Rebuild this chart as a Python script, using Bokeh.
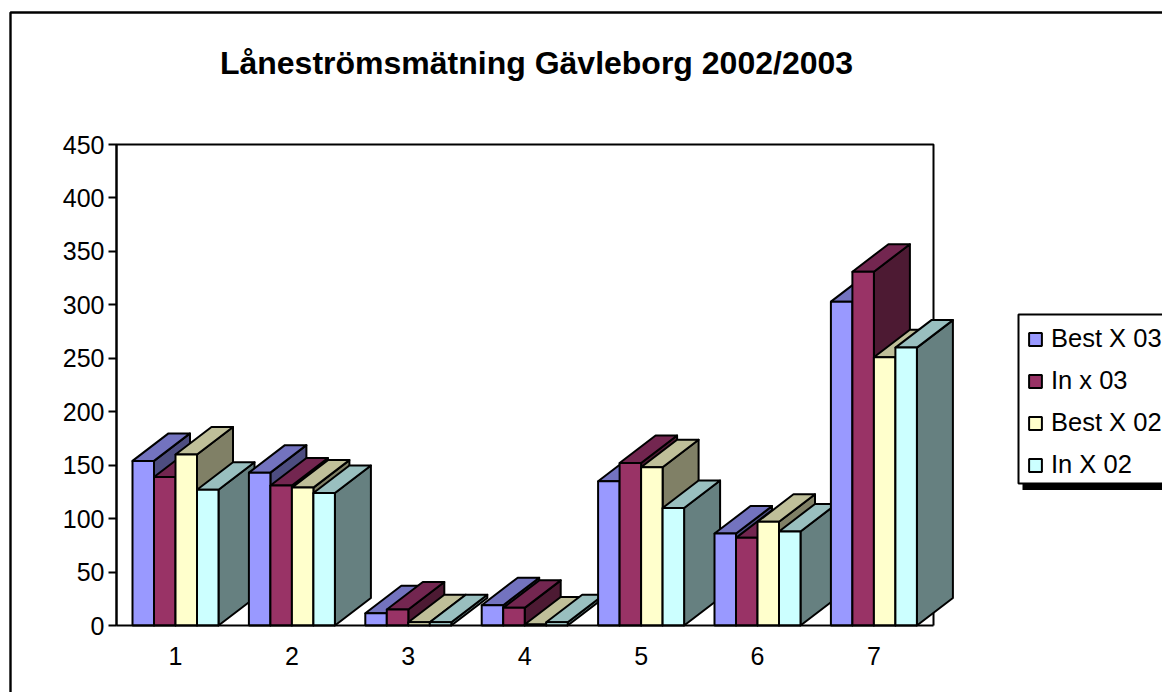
from bokeh.plotting import figure
from bokeh.embed import file_html
from bokeh.resources import INLINE
from bokeh.models import Legend, LegendItem, FixedTicker, LinearAxis
from bokeh.core.properties import value

title = "Låneströmsmätning Gävleborg 2002/2003"
categories = [1, 2, 3, 4, 5, 6, 7]
series_names = ["Best X 03", "In x 03", "Best X 02", "In X 02"]
best_x_03 = [154, 143, 11.5, 19, 135, 86, 303]
in_x_03 = [139, 131, 15, 16.5, 152, 82, 331]
best_x_02 = [160, 129, 3, 1, 148, 97, 251]
in_x_02 = [127, 124, 3, 3, 110, 88, 260]
y_ticks = [0, 50, 100, 150, 200, 250, 300, 350, 400, 450]
front_colors = ["#9999FF", "#993366", "#FFFFCC", "#CCFFFF"]
top_colors = ["#7373BF", "#732650", "#BFBF99", "#99BFBF"]
side_colors = ["#4D4D80", "#4D1A33", "#808066", "#668080"]
series = [best_x_03, in_x_03, best_x_02, in_x_02]

W, H = 1162, 692
PX_X = 116.4      # px per category
PX_Y = 481 / 450  # px per value
AX_B = 625

def X(px):
    return 1 + (px - 175) / PX_X

def Y(py):
    return (AX_B - py) / PX_Y

p = figure(width=W, height=H, output_backend="svg", toolbar_location=None,
           x_range=(X(0), X(W)), y_range=(Y(H), Y(0)),
           x_axis_type=None, y_axis_type=None, min_border=0,
           background_fill_color="white", border_fill_color="white",
           outline_line_color=None)
p.grid.visible = False

# outer chart frame
p.line([X(10), X(10), X(1172)], [Y(700), Y(12), Y(12)], line_color="black", line_width=2.4)
# plot-area frame
left_edge, right_edge = X(116), X(933)
p.line([left_edge, left_edge, right_edge, right_edge], [0, 450, 450, 0], line_color="black", line_width=2)

bar_w = 21.5 / PX_X
depth_x = 36 / PX_X
depth_y = 27.5 / PX_Y
LW = 2
legend_refs = [None] * 4
for g, cat in enumerate(categories):
    for s in range(4):
        v = series[s][g]
        x0 = cat - 2 * bar_w + s * bar_w
        x1 = x0 + bar_w
        p.patch([x1, x1 + depth_x, x1 + depth_x, x1],
                [0, depth_y, v + depth_y, v],
                fill_color=side_colors[s], line_color="black", line_width=LW, line_join="round")
        p.patch([x0, x0 + depth_x, x1 + depth_x, x1],
                [v, v + depth_y, v + depth_y, v],
                fill_color=top_colors[s], line_color="black", line_width=LW, line_join="round")
        r = p.quad(left=[x0], right=[x1], bottom=[0], top=[v],
                   fill_color=front_colors[s], line_color="black", line_width=LW)
        if legend_refs[s] is None:
            legend_refs[s] = r

yaxis = LinearAxis(ticker=FixedTicker(ticks=y_ticks), bounds=(0, 450), fixed_location=left_edge,
                   axis_line_color="black", axis_line_width=2,
                   major_tick_line_color="black", major_tick_line_width=2,
                   major_tick_out=8, major_tick_in=0, minor_tick_out=0, minor_tick_in=0,
                   major_label_text_font="Liberation Sans", major_label_text_font_size="25px",
                   major_label_text_color="black", major_label_standoff=4)
xaxis = LinearAxis(ticker=FixedTicker(ticks=categories), bounds=(left_edge, right_edge), fixed_location=0,
                   axis_line_color="black", axis_line_width=2,
                   major_tick_out=0, major_tick_in=0, minor_tick_out=0, minor_tick_in=0,
                   major_label_text_font="Liberation Sans", major_label_text_font_size="25px",
                   major_label_text_color="black", major_label_standoff=21)
p.add_layout(yaxis, "left")
p.add_layout(xaxis, "below")

p.text([X(536)], [Y(62)], text=[title], text_font=value("Liberation Sans"),
       text_font_style="bold", text_font_size="32px", text_color="black",
       text_align="center", text_baseline="middle")

# legend shadow and box, drawn under a legend that has no box of its own
p.quad(left=[X(1022)], right=[X(1180)], bottom=[Y(489.5)], top=[Y(480)],
       fill_color="black", line_color=None)
p.quad(left=[X(1018)], right=[X(1175)], bottom=[Y(483)], top=[Y(314)],
       fill_color="white", line_color="black", line_width=2)

legend = Legend(items=[LegendItem(label=n, renderers=[r]) for n, r in zip(series_names, legend_refs)],
                location=(1027, 213), orientation="vertical",
                background_fill_alpha=0, border_line_color=None,
                glyph_width=16, glyph_height=16, label_standoff=8,
                label_text_font="Liberation Sans", label_text_font_size="25.5px",
                label_text_color="black", label_height=28,
                spacing=13, padding=8, margin=0)
p.add_layout(legend, "center")

open("out.html", "w").write(file_html(p, INLINE))
